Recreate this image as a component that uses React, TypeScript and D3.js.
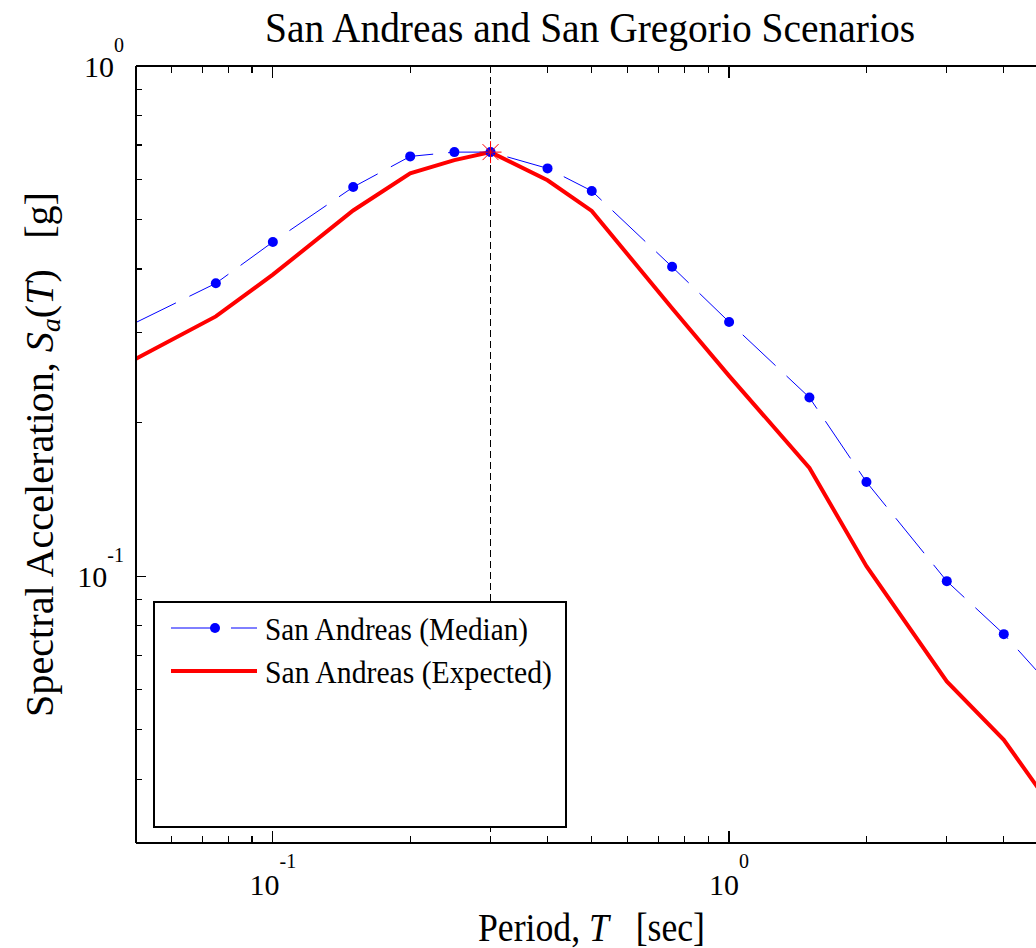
import React from "react";
import * as d3 from "d3";

// ---- data ----
const periods = [0.05, 0.075, 0.1, 0.15, 0.2, 0.25, 0.3, 0.4, 0.5, 0.75, 1, 1.5, 2, 3, 4, 5];
const medianSa = [0.314, 0.375, 0.452, 0.579, 0.665, 0.678, 0.678, 0.63, 0.569, 0.404, 0.315, 0.224, 0.153, 0.0978, 0.077, 0.0617];
const expectedSa = [0.2665, 0.323, 0.39, 0.521, 0.616, 0.654, 0.678, 0.597, 0.52, 0.335, 0.247, 0.163, 0.1046, 0.0622, 0.0478, 0.0361];
const conditioningPeriod = [0.3];
const conditioningSa = [0.678];
const xDomain = [0.05, 5];
const yDomain = [0.03, 1];
const xMajorTicks = [0.1, 1];
const yMajorTicks = [0.1, 1];
const legendLabels = ["San Andreas (Median)", "San Andreas (Expected)"];
const titleText = "San Andreas and San Gregorio Scenarios";

const W = 1036;
const H = 948;
const left = 135.5;
const top = 66;
const bottom = 843;
const right = 1048;
const FONT = "'Liberation Serif', 'Times New Roman', Times, serif";

export default function App() {
  const x = d3.scaleLog().domain(xDomain).range([left, right]);
  const y = d3.scaleLog().domain(yDomain).range([bottom, top]);

  const xMinor = x.ticks().filter((t) => !xMajorTicks.some((m) => Math.abs(m - t) < 1e-9) && t > xDomain[0] + 1e-9 && t < xDomain[1] - 1e-9);
  const yMinor = y.ticks().filter((t) => !yMajorTicks.some((m) => Math.abs(m - t) < 1e-9) && t > yDomain[0] + 1e-9 && t < yDomain[1] - 1e-9);

  const medianPts = periods.map((p, i) => [p, medianSa[i]] as [number, number]);
  const expectedPts = periods.map((p, i) => [p, expectedSa[i]] as [number, number]);
  const line = d3
    .line<[number, number]>()
    .x((d) => x(d[0]))
    .y((d) => y(d[1]));

  const markerPts = medianPts.filter((d) => d[0] > xDomain[0] + 1e-9 && d[0] < xDomain[1] - 1e-9);

  const starR = 11;
  const starD = 8;

  const blue = "#0000ff";
  const red = "#ff0000";

  // legend geometry
  const lgX0 = 154,
    lgX1 = 566,
    lgY0 = 602,
    lgY1 = 827;

  const expLabel = (t: number) => String(Math.round(Math.log10(t)));

  return (
    <svg
      width={W}
      height={H}
      viewBox={`0 0 ${W} ${H}`}
      style={{ position: "absolute", left: 0, top: 0, background: "#fff" }}
      fontFamily={FONT}
    >
      <rect x={0} y={0} width={W} height={H} fill="#fff" />
      <defs>
        <clipPath id="plotClip">
          <rect x={left} y={top} width={right - left} height={bottom - top} />
        </clipPath>
      </defs>

      {/* title */}
      <text x={265} y={41.5} fontSize={42} textLength={650} lengthAdjust="spacingAndGlyphs" fill="#000">
        {titleText}
      </text>

      {/* vertical dashed line at conditioning period */}
      <line
        x1={x(conditioningPeriod[0])}
        x2={x(conditioningPeriod[0])}
        y1={top}
        y2={bottom}
        stroke="#000"
        strokeWidth={1.2}
        strokeDasharray="7,4"
        shapeRendering="crispEdges"
      />

      {/* data */}
      <g clipPath="url(#plotClip)">
        <path d={line(expectedPts) || ""} fill="none" stroke={red} strokeWidth={4} strokeLinejoin="miter" />
        <path d={line(medianPts) || ""} fill="none" stroke={blue} strokeWidth={1} strokeDasharray="45,15" />
        {markerPts.map((d, i) => (
          <circle key={i} cx={x(d[0])} cy={y(d[1])} r={5} fill={blue} />
        ))}
        {conditioningPeriod.map((p, i) => {
          const cx = x(p);
          const cy = y(conditioningSa[i]);
          return (
            <g key={i} stroke={red} strokeWidth={1}>
              <line x1={cx - starR} x2={cx + starR} y1={cy} y2={cy} />
              <line x1={cx} x2={cx} y1={cy - starR} y2={cy + starR} />
              <line x1={cx - starD} x2={cx + starD} y1={cy - starD} y2={cy + starD} />
              <line x1={cx - starD} x2={cx + starD} y1={cy + starD} y2={cy - starD} />
            </g>
          );
        })}
      </g>

      {/* axes box lines */}
      <g shapeRendering="crispEdges" stroke="#000">
        <line x1={left} x2={W} y1={bottom} y2={bottom} strokeWidth={2} />
        <line x1={left} x2={W} y1={top} y2={top} strokeWidth={2} />
        <line x1={left} x2={left} y1={top} y2={bottom} strokeWidth={2} />
      </g>

      {/* x ticks */}
      {xMajorTicks.map((t) => (
        <g key={"xM" + t}>
          <line x1={x(t)} x2={x(t)} y1={bottom} y2={bottom - 12} stroke="#000" strokeWidth={1.2} shapeRendering="crispEdges" />
          <line x1={x(t)} x2={x(t)} y1={top} y2={top + 12} stroke="#000" strokeWidth={1.2} shapeRendering="crispEdges" />
          <text x={x(t)} y={895} fontSize={30} textAnchor="middle" fill="#000">
            <tspan>10</tspan>
            <tspan dy={-27} fontSize={20}>
              {expLabel(t)}
            </tspan>
          </text>
        </g>
      ))}
      {xMinor.map((t) => (
        <g key={"xm" + t}>
          <line x1={x(t)} x2={x(t)} y1={bottom} y2={bottom - 7} stroke="#000" strokeWidth={1.2} shapeRendering="crispEdges" />
          <line x1={x(t)} x2={x(t)} y1={top} y2={top + 7} stroke="#000" strokeWidth={1.2} shapeRendering="crispEdges" />
        </g>
      ))}

      {/* y ticks */}
      {yMajorTicks.map((t) => (
        <g key={"yM" + t}>
          <line x1={left} x2={left + 10} y1={y(t)} y2={y(t)} stroke="#000" strokeWidth={1.2} shapeRendering="crispEdges" />
          <text x={124} y={y(t) + 10.5} fontSize={30} textAnchor="end" fill="#000">
            <tspan>10</tspan>
            <tspan dy={-25} fontSize={20}>
              {expLabel(t)}
            </tspan>
          </text>
        </g>
      ))}
      {yMinor.map((t) => (
        <line key={"ym" + t} x1={left} x2={left + 6} y1={y(t)} y2={y(t)} stroke="#000" strokeWidth={1.2} shapeRendering="crispEdges" />
      ))}

      {/* x label */}
      <text
        x={478}
        y={941}
        fontSize={40}
        textLength={227}
        lengthAdjust="spacingAndGlyphs"
        fill="#000"
        style={{ whiteSpace: "pre" }}
      >
        <tspan>Period, </tspan>
        <tspan fontStyle="italic">T</tspan>
        <tspan>{"   [sec]"}</tspan>
      </text>

      {/* y label */}
      <text
        transform="translate(53,717) rotate(-90)"
        x={0}
        y={0}
        fontSize={39}
        textLength={525}
        lengthAdjust="spacingAndGlyphs"
        fill="#000"
        style={{ whiteSpace: "pre" }}
      >
        <tspan>Spectral Acceleration, </tspan>
        <tspan fontStyle="italic">S</tspan>
        <tspan fontStyle="italic" fontSize={27} dy={7}>
          a
        </tspan>
        <tspan dy={-7}>(</tspan>
        <tspan fontStyle="italic">T</tspan>
        <tspan>{")   [g]"}</tspan>
      </text>

      {/* legend */}
      <rect x={lgX0} y={lgY0} width={lgX1 - lgX0} height={lgY1 - lgY0} fill="#fff" stroke="#000" strokeWidth={1.6} shapeRendering="crispEdges" />
      <line x1={171} x2={257} y1={628} y2={628} stroke={blue} strokeWidth={1} strokeDasharray="45,15" />
      <circle cx={215} cy={628} r={5} fill={blue} />
      <text x={265} y={640} fontSize={32} textLength={263} lengthAdjust="spacingAndGlyphs" fill="#000">
        {legendLabels[0]}
      </text>
      <line x1={171} x2={257} y1={671} y2={671} stroke={red} strokeWidth={4} />
      <text x={265} y={683} fontSize={32} textLength={287} lengthAdjust="spacingAndGlyphs" fill="#000">
        {legendLabels[1]}
      </text>
    </svg>
  );
}
